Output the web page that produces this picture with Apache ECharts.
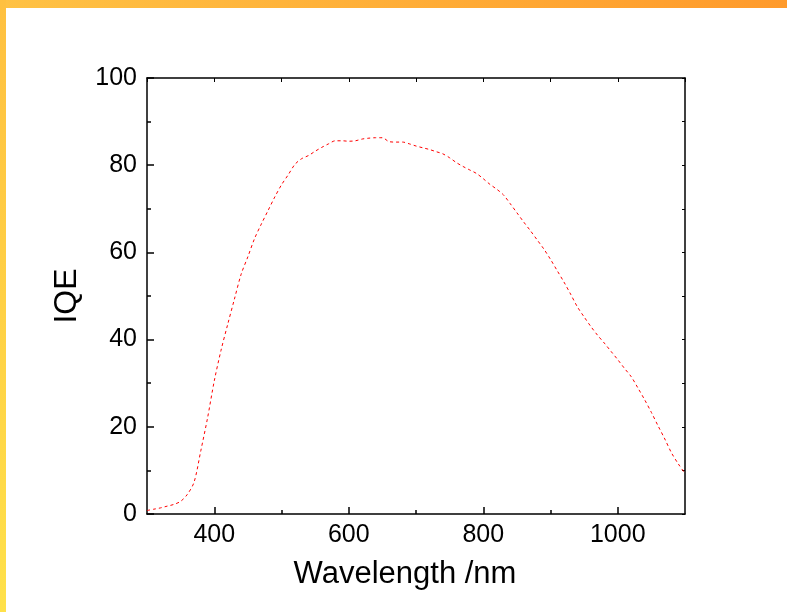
<!DOCTYPE html>
<html>
<head>
<meta charset="utf-8">
<title>IQE</title>
<script type="text/javascript" src="https://cdn.jsdelivr.net/npm/echarts@6/dist/echarts.min.js"></script>
<style>
  html, body { margin: 0; padding: 0; background: #fff; }
  #chart { width: 787px; height: 612px; }
</style>
</head>
<body>
<div id="chart"></div>
<script type="text/javascript">
// wavelength (nm) and internal quantum efficiency (%)
var wavelength = [
  300, 310, 320, 330, 340, 350, 360, 370, 380, 390,
  400, 410, 420, 430, 440, 450, 460, 470, 480, 490,
  500, 510, 520, 530, 540, 550, 560, 570, 580, 590,
  600, 610, 620, 630, 640, 650, 660, 670, 680, 690,
  700, 710, 720, 730, 740, 750, 760, 770, 780, 790,
  800, 810, 820, 830, 840, 850, 860, 870, 880, 890,
  900, 910, 920, 930, 940, 950, 960, 970, 980, 990,
  1000, 1010, 1020, 1030, 1040, 1050, 1060, 1070, 1080, 1090,
  1100
];
var iqe = [
  0.8, 1.1, 1.4, 1.8, 2.2, 2.9, 4.5, 7.3, 14.5, 22.0,
  30.5, 37.5, 43.5, 49.3, 55.0, 59.0, 63.2, 66.5, 69.6, 72.7,
  75.5, 77.8, 80.2, 81.5, 82.2, 83.2, 84.1, 84.9, 85.6, 85.6,
  85.5, 85.6, 86.0, 86.2, 86.3, 86.3, 85.4, 85.3, 85.3, 84.9,
  84.4, 84.0, 83.6, 83.1, 82.6, 81.7, 80.6, 79.7, 78.9, 78.1,
  76.9, 75.6, 74.5, 73.2, 71.2, 69.1, 67.0, 65.0, 62.9, 60.8,
  58.4, 55.8, 53.2, 50.4, 47.5, 45.2, 43.0, 41.0, 39.2, 37.3,
  35.4, 33.4, 31.5, 28.9, 26.2, 23.3, 20.2, 17.2, 14.0, 11.5,
  9.3
];
var xMajorTicks = [400, 600, 800, 1000];
var xMinorTicks = [500, 700, 900];

var chart = echarts.init(document.getElementById('chart'));
var font = 'Liberation Sans, Arial, sans-serif';
var axisLine = { show: true, lineStyle: { color: '#000', width: 1.5 } };

var option = {
  animation: false,
  backgroundColor: '#fff',
  graphic: [
    {
      type: 'rect', left: 0, top: 0, z: 100,
      shape: { width: 787, height: 8 },
      style: { fill: new echarts.graphic.LinearGradient(0, 0, 1, 0, [
        { offset: 0, color: '#ffc244' }, { offset: 1, color: '#ff9a2b' }]) }
    },
    {
      type: 'rect', left: 0, top: 0, z: 100,
      shape: { width: 6, height: 612 },
      style: { fill: new echarts.graphic.LinearGradient(0, 0, 0, 1, [
        { offset: 0, color: '#ffc040' }, { offset: 1, color: '#ffe14a' }]) }
    }
  ],
  grid: { left: 147, right: 102, top: 78, bottom: 98 },
  xAxis: [
    {
      type: 'value', min: 300, max: 1100, position: 'bottom',
      name: 'Wavelength /nm', nameLocation: 'middle', nameGap: 45,
      nameTextStyle: { fontFamily: font, fontSize: 31, color: '#000', padding: [0, 22, 0, 0] },
      axisLine: axisLine,
      axisTick: { show: true, inside: true, length: 7, customValues: xMajorTicks,
        lineStyle: { color: '#000', width: 1.5 } },
      axisLabel: { customValues: xMajorTicks, margin: 9, fontFamily: font, fontSize: 25, color: '#000',
        formatter: function (v) { return String(v); } },
      splitLine: { show: false }
    },
    {
      type: 'value', min: 300, max: 1100, position: 'bottom', gridIndex: 0,
      axisLine: { show: false },
      axisTick: { show: true, inside: true, length: 4, customValues: xMinorTicks,
        lineStyle: { color: '#000', width: 1.5 } },
      axisLabel: { show: false },
      splitLine: { show: false }
    },
    {
      type: 'value', min: 300, max: 1100, interval: 100, position: 'top',
      axisLine: axisLine,
      axisTick: { show: true, inside: true, length: 4, lineStyle: { color: '#000', width: 1 } },
      axisLabel: { show: false },
      splitLine: { show: false }
    }
  ],
  yAxis: [
    {
      type: 'value', min: 0, max: 100, interval: 20, position: 'left',
      name: 'IQE', nameLocation: 'middle', nameGap: 64,
      nameTextStyle: { fontFamily: font, fontSize: 32, color: '#000' },
      axisLine: axisLine,
      axisTick: { show: true, inside: true, length: 7, lineStyle: { color: '#000', width: 1.5 } },
      minorTick: { show: true, splitNumber: 2, length: 4, lineStyle: { color: '#000', width: 1.5 } },
      axisLabel: { margin: 10, fontFamily: font, fontSize: 25, color: '#000' },
      splitLine: { show: false }
    },
    {
      type: 'value', min: 0, max: 100, interval: 10, position: 'right',
      axisLine: axisLine,
      axisTick: { show: true, inside: true, length: 3, lineStyle: { color: '#000', width: 1 } },
      axisLabel: { show: false },
      splitLine: { show: false }
    }
  ],
  series: [
    {
      type: 'line',
      xAxisIndex: 0, yAxisIndex: 0,
      data: wavelength.map(function (w, i) { return [w, iqe[i]]; }),
      smooth: 0.3,
      showSymbol: false,
      lineStyle: { color: '#ff0000', width: 1, type: [3, 3] }
    }
  ]
};
chart.setOption(option);
</script>
</body>
</html>
